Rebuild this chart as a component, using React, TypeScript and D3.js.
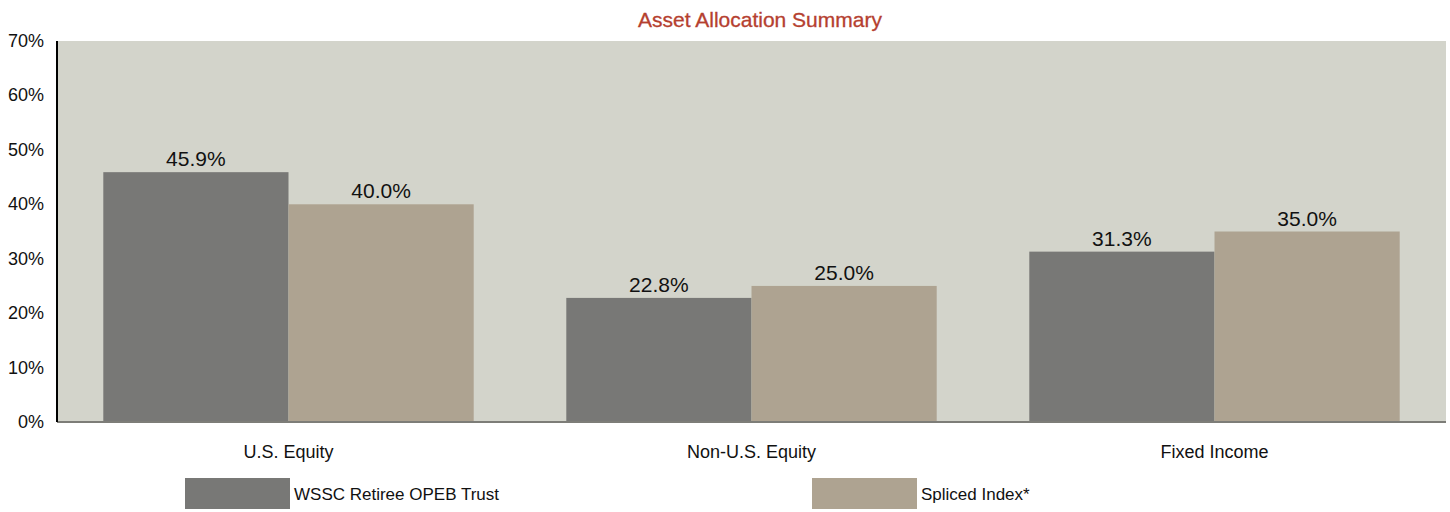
import * as d3 from "d3";

const categories = ["U.S. Equity", "Non-U.S. Equity", "Fixed Income"];
const seriesNames = ["WSSC Retiree OPEB Trust", "Spliced Index*"];
const trustValues = [45.9, 22.8, 31.3];
const indexValues = [40.0, 25.0, 35.0];
const yTicks = [0, 10, 20, 30, 40, 50, 60, 70];

const COLORS = ["#787876", "#aea391"];
const WIDTH = 1450;
const HEIGHT = 512;
const MARGIN = { top: 41, right: 4, bottom: 90, left: 57 };
const FONT = "'Liberation Sans', Arial, sans-serif";

export default function App() {
  const boundsWidth = WIDTH - MARGIN.left - MARGIN.right;
  const boundsHeight = HEIGHT - MARGIN.top - MARGIN.bottom;

  const xScale = d3
    .scaleBand()
    .domain(categories)
    .range([0, boundsWidth])
    .paddingInner(0.2)
    .paddingOuter(0.1);
  const subScale = d3
    .scaleBand()
    .domain(seriesNames)
    .range([0, xScale.bandwidth()]);
  const yScale = d3.scaleLinear().domain([0, 70]).range([boundsHeight, 0]);

  const series = [trustValues, indexValues];

  return (
    <svg
      width={WIDTH}
      height={HEIGHT}
      style={{ position: "absolute", left: 0, top: 0, fontFamily: FONT }}
    >
      <text x={760} y={27} textAnchor="middle" fill="#b5402f" fontSize={21} stroke="#b5402f" strokeWidth={0.3}>
        Asset Allocation Summary
      </text>
      <g transform={`translate(${MARGIN.left},${MARGIN.top})`}>
        <rect width={boundsWidth} height={boundsHeight} fill="#d3d4cb" />
        {categories.map((c, i) =>
          series.map((vals, s) => (
            <rect
              key={c + s}
              x={(xScale(c) ?? 0) + (subScale(seriesNames[s]) ?? 0)}
              y={yScale(vals[i])}
              width={subScale.bandwidth()}
              height={boundsHeight - yScale(vals[i])}
              fill={COLORS[s]}
            />
          ))
        )}
        {categories.map((c, i) =>
          series.map((vals, s) => (
            <text
              key={"l" + c + s}
              x={(xScale(c) ?? 0) + (subScale(seriesNames[s]) ?? 0) + subScale.bandwidth() / 2}
              y={yScale(vals[i]) - 6}
              textAnchor="middle"
              fontSize={21}
              fill="#111"
            >
              {vals[i].toFixed(1)}%
            </text>
          ))
        )}
        <line x1={0} x2={boundsWidth} y1={boundsHeight} y2={boundsHeight} stroke="#7d7d78" strokeWidth={2} />
        <line x1={0} x2={0} y1={0} y2={boundsHeight} stroke="#000" strokeWidth={2} />
        {yTicks.map((t) => (
          <text key={t} x={-13} y={yScale(t) + 6} textAnchor="end" fontSize={18} fill="#111">
            {t}%
          </text>
        ))}
        {categories.map((c) => (
          <text
            key={c}
            x={(xScale(c) ?? 0) + xScale.bandwidth() / 2}
            y={boundsHeight + 36}
            textAnchor="middle"
            fontSize={18}
            fill="#111"
          >
            {c}
          </text>
        ))}
      </g>
      {seriesNames.map((n, s) => {
        const lx = [185, 812][s];
        return (
          <g key={n} transform={`translate(${lx},478)`}>
            <rect width={105} height={31} fill={COLORS[s]} />
            <text x={109} y={22} fontSize={17} fill="#111">
              {n}
            </text>
          </g>
        );
      })}
    </svg>
  );
}
